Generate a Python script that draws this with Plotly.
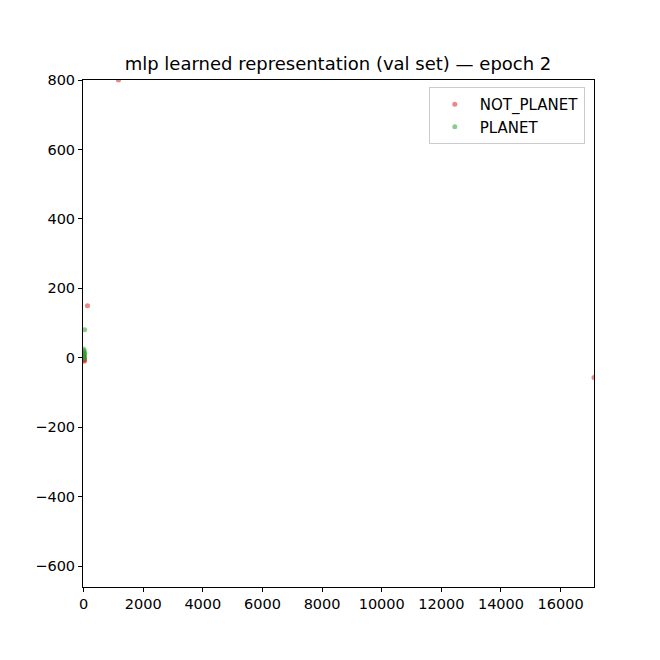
import plotly.graph_objects as go

# learned 2-d embedding of the validation set
not_planet_x = [1170, 130, 17120, 15, 25, 10, 30, 20]
not_planet_y = [800, 150, -57, -3, -8, -1, -5, -10]
planet_x = [35, 10, 18, 25, 5, 20, 30, 12, 28, 8, 22]
planet_y = [81, 20, 14, 10, 5, 2, 8, -2, 16, 25, 0]

x_ticks = list(range(0, 16001, 2000))
x_labels = [str(v) for v in x_ticks]
y_ticks = list(range(-600, 801, 200))
y_labels = [str(v).replace("-", "\u2212") for v in y_ticks]

FONT = "DejaVu Sans"
RED = "rgba(214,39,40,0.55)"
GREEN = "rgba(44,160,44,0.55)"

fig = go.Figure()
fig.add_trace(go.Scatter(x=not_planet_x, y=not_planet_y, mode="markers", name="NOT_PLANET",
                         marker=dict(color=RED, size=5, line=dict(width=0))))
fig.add_trace(go.Scatter(x=planet_x, y=planet_y, mode="markers", name="PLANET",
                         marker=dict(color=GREEN, size=5, line=dict(width=0))))

axis = dict(showgrid=False, zeroline=False, showline=True, mirror=True,
            linecolor="black", linewidth=1, ticks="outside", ticklen=4,
            tickcolor="black", tickfont=dict(family=FONT, size=14.5, color="black"))

fig.update_layout(
    width=660, height=660,
    margin=dict(l=75, r=74, t=72, b=81),
    paper_bgcolor="white", plot_bgcolor="white",
    title=dict(text="mlp learned representation (val set) \u2014 epoch 2",
               x=0.5, xanchor="center", y=1 - 56 / 660, yanchor="middle",
               font=dict(family=FONT, size=18, color="black")),
    xaxis=dict(axis, range=[-20, 17120], tickvals=x_ticks, ticktext=x_labels),
    yaxis=dict(axis, range=[-660, 800], tickvals=y_ticks, ticktext=y_labels),
    legend=dict(x=0.982, y=0.986, xanchor="right", yanchor="top",
                bgcolor="rgba(255,255,255,0.8)", bordercolor="#cccccc", borderwidth=1,
                font=dict(family=FONT, size=15, color="black"),
                itemsizing="trace", itemwidth=40),
    showlegend=True,
)

fig.write_html("out.html")
